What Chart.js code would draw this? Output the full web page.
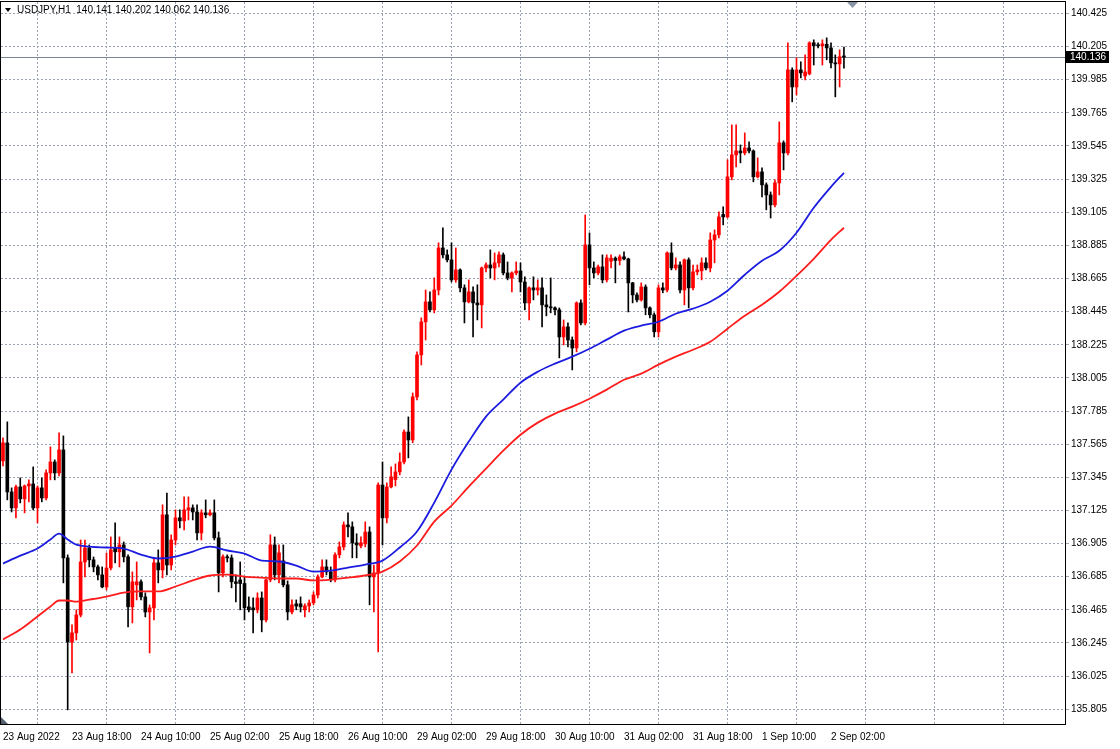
<!DOCTYPE html>
<html><head><meta charset="utf-8">
<script src="https://cdn.jsdelivr.net/npm/chart.js@4.4.1/dist/chart.umd.min.js"></script>
<style>html,body{margin:0;padding:0;background:#fff;overflow:hidden}canvas{display:block}</style>
</head><body>
<canvas id="c" width="1120" height="749"></canvas>
<script>
const symbolTitle = 'USDJPY,H1  140.141 140.202 140.062 140.136';
const lastPrice = 140.136;
const xTickBars = [0,16,32,48,64,80,96,112,128,144,160,176,192,208,224,240];
const xTickLabels = ['23 Aug 2022','23 Aug 18:00','24 Aug 10:00','25 Aug 02:00','25 Aug 18:00','26 Aug 10:00','29 Aug 02:00','29 Aug 18:00','30 Aug 10:00','31 Aug 02:00','31 Aug 18:00','1 Sep 10:00','2 Sep 02:00'];
const yTicks = [135.805,136.025,136.245,136.465,136.685,136.905,137.125,137.345,137.565,137.785,138.005,138.225,138.445,138.665,138.885,139.105,139.325,139.545,139.765,139.985,140.205,140.425];

const open = [137.454,137.574,137.248,137.142,137.281,137.202,137.288,137.301,137.142,137.275,
137.208,137.374,137.447,137.374,137.527,136.810,136.252,136.312,136.431,136.783,
136.876,136.797,136.750,136.697,136.617,136.743,136.880,136.850,136.896,136.817,
136.485,136.631,136.651,136.551,136.451,136.478,136.777,136.730,137.096,136.763,
136.929,137.076,137.056,137.129,137.142,137.115,136.976,137.109,137.096,137.109,
136.943,136.710,136.817,136.810,136.651,136.664,136.640,136.485,136.478,136.465,
136.544,136.398,136.664,136.896,136.697,136.790,136.631,136.451,136.505,136.505,
136.465,136.491,136.511,136.564,136.684,136.750,136.717,136.664,136.830,136.883,
137.029,137.016,136.910,136.890,136.903,136.982,136.684,136.710,137.294,137.076,
137.281,137.330,137.381,137.447,137.646,137.593,137.879,138.158,138.377,138.510,
138.457,138.589,138.868,138.822,138.789,138.656,138.722,138.603,138.510,138.576,
138.503,138.490,138.735,138.755,138.735,138.769,138.822,138.702,138.669,138.702,
138.715,138.642,138.503,138.603,138.589,138.603,138.490,138.477,138.470,138.457,
138.277,138.344,138.257,138.204,138.503,138.370,138.888,138.735,138.702,138.742,
138.656,138.780,138.800,138.785,138.809,138.795,138.636,138.556,138.523,138.609,
138.470,138.424,138.311,138.603,138.589,138.835,138.735,138.755,138.589,138.789,
138.603,138.709,138.716,138.769,138.735,138.921,138.955,139.090,139.074,139.340,
139.486,139.512,139.499,139.532,139.512,139.340,139.373,139.287,139.220,139.154,
139.300,139.566,139.499,140.050,139.937,140.050,140.010,140.024,140.230,140.215,
140.210,140.220,140.196,140.097,140.090,140.141];

const high = [137.607,137.713,137.275,137.294,137.341,137.294,137.328,137.414,137.288,137.341,
137.394,137.547,137.461,137.640,137.620,136.830,136.365,136.465,136.929,136.929,
136.896,136.816,136.763,136.750,136.843,136.949,137.042,136.949,136.916,136.830,
136.717,136.783,136.664,136.578,136.498,136.810,136.863,137.162,137.241,136.963,
137.129,137.129,137.215,137.215,137.162,137.162,137.129,137.195,137.129,137.195,
136.982,136.830,136.830,136.830,136.697,136.783,136.684,136.551,136.544,136.578,
136.584,136.670,136.963,136.949,136.896,136.896,136.657,136.531,136.531,136.551,
136.505,136.531,136.584,136.697,136.797,136.797,136.750,136.843,136.916,137.049,
137.109,137.049,136.970,136.949,137.049,137.016,136.763,137.308,137.447,137.308,
137.414,137.434,137.507,137.660,137.746,137.905,138.178,138.404,138.589,138.576,
138.669,138.902,139.001,138.855,138.902,138.868,138.729,138.623,138.656,138.609,
138.623,138.742,138.769,138.855,138.835,138.842,138.835,138.775,138.709,138.775,
138.769,138.676,138.609,138.676,138.656,138.669,138.556,138.669,138.477,138.470,
138.390,138.370,138.277,138.510,138.523,139.087,138.968,138.775,138.755,138.822,
138.822,138.822,138.809,138.822,138.842,138.800,138.640,138.570,138.636,138.623,
138.477,138.437,138.623,138.636,138.842,138.902,138.802,138.775,138.795,138.802,
138.755,138.755,138.802,138.802,138.968,138.988,139.107,139.141,139.453,139.685,
139.685,139.552,139.632,139.572,139.519,139.466,139.400,139.300,139.240,139.320,
139.705,139.579,140.230,140.064,140.130,140.104,140.150,140.237,140.250,140.230,
140.250,140.263,140.230,140.150,140.183,140.202];

const low = [137.421,137.195,137.115,137.076,137.175,137.109,137.182,137.129,137.042,137.182,
137.195,137.328,137.328,137.354,136.644,135.801,136.046,136.265,136.418,136.684,
136.750,136.717,136.664,136.611,136.597,136.730,136.777,136.750,136.783,136.352,
136.378,136.531,136.531,136.418,136.179,136.398,136.644,136.677,136.697,136.730,
136.896,137.009,136.996,137.062,137.062,136.929,136.929,137.076,137.089,136.929,
136.584,136.684,136.783,136.611,136.518,136.465,136.398,136.451,136.312,136.445,
136.319,136.385,136.651,136.664,136.644,136.617,136.398,136.438,136.465,136.451,
136.418,136.451,136.498,136.544,136.677,136.697,136.651,136.651,136.810,136.863,
136.949,136.810,136.810,136.876,136.883,136.498,136.451,136.186,136.896,137.042,
137.275,137.288,137.361,137.434,137.474,137.574,137.859,138.091,138.257,138.443,
138.437,138.556,138.802,138.775,138.642,138.640,138.576,138.370,138.503,138.277,
138.390,138.337,138.709,138.669,138.656,138.742,138.689,138.656,138.576,138.689,
138.576,138.457,138.390,138.523,138.556,138.344,138.417,138.437,138.424,138.138,
138.224,138.210,138.058,138.178,138.357,138.357,138.623,138.669,138.689,138.636,
138.642,138.735,138.636,138.755,138.789,138.443,138.503,138.510,138.515,138.424,
138.404,138.277,138.277,138.570,138.576,138.722,138.722,138.570,138.490,138.470,
138.589,138.689,138.656,138.722,138.709,138.769,138.935,139.021,139.067,139.320,
139.406,139.433,139.486,139.499,139.307,139.333,139.207,139.121,139.067,139.141,
139.220,139.386,139.486,139.838,139.884,139.997,139.984,140.017,140.083,140.196,
140.083,140.117,140.064,139.871,139.937,140.062];

const close = [137.574,137.248,137.142,137.281,137.202,137.288,137.301,137.142,137.275,137.208,
137.374,137.447,137.374,137.527,136.810,136.252,136.312,136.431,136.783,136.876,
136.797,136.750,136.697,136.617,136.743,136.863,136.850,136.896,136.817,136.485,
136.651,136.651,136.551,136.451,136.478,136.777,136.730,137.096,136.763,136.929,
137.076,137.056,137.129,137.142,137.115,136.976,137.109,137.096,137.109,136.943,
136.710,136.817,136.810,136.651,136.640,136.640,136.478,136.465,136.465,136.544,
136.398,136.664,136.896,136.697,136.843,136.631,136.451,136.498,136.490,136.485,
136.491,136.511,136.564,136.684,136.750,136.717,136.664,136.830,136.883,137.029,
137.016,136.910,136.896,136.910,136.982,136.684,136.710,137.294,137.076,137.281,
137.348,137.381,137.447,137.646,137.593,137.879,138.158,138.377,138.510,138.457,
138.589,138.868,138.822,138.789,138.656,138.722,138.603,138.510,138.576,138.503,
138.490,138.735,138.755,138.735,138.769,138.822,138.702,138.669,138.702,138.715,
138.642,138.503,138.603,138.589,138.603,138.490,138.477,138.470,138.457,138.277,
138.344,138.257,138.204,138.503,138.370,138.888,138.735,138.702,138.742,138.656,
138.802,138.800,138.785,138.809,138.795,138.636,138.556,138.523,138.609,138.470,
138.424,138.311,138.603,138.589,138.835,138.735,138.755,138.589,138.789,138.603,
138.709,138.722,138.769,138.735,138.921,138.955,139.074,139.074,139.340,139.486,
139.512,139.499,139.532,139.512,139.340,139.373,139.287,139.220,139.154,139.300,
139.566,139.499,140.050,139.937,140.050,140.030,140.037,140.230,140.210,140.210,
140.223,140.196,140.097,140.090,140.137,140.136];

const maBars = [0,4,8,11,13,15,17,20,24,28,32,36,40,44,48,52,56,60,64,68,72,76,80,84,88,92,96,100,104,108,112,116,120,124,128,132,136,140,144,148,152,156,160,164,168,172,176,180,184,188,192,195];
const maBlue = [136.772,136.825,136.872,136.932,136.971,136.932,136.898,136.885,136.879,136.872,136.832,136.806,136.819,136.852,136.885,136.859,136.839,136.792,136.786,136.759,136.719,136.726,136.746,136.766,136.792,136.879,136.985,137.177,137.396,137.582,137.748,137.861,137.973,138.046,138.100,138.146,138.199,138.259,138.319,138.352,138.378,138.431,138.465,138.511,138.584,138.690,138.783,138.849,138.969,139.135,139.274,139.367];
const maRed = [136.268,136.334,136.421,136.487,136.527,136.527,136.520,136.533,136.553,136.580,136.587,136.587,136.620,136.660,136.693,136.699,136.686,136.679,136.673,136.673,136.660,136.666,136.679,136.693,136.719,136.786,136.892,137.051,137.157,137.283,137.403,137.522,137.628,137.708,137.768,137.814,137.867,137.927,137.993,138.033,138.093,138.146,138.192,138.245,138.332,138.418,138.491,138.577,138.683,138.796,138.922,139.002];

const FONT = 'Liberation Sans, Arial, sans-serif';
const GRID = '#9aa3b3';
const bullColor = '#ff0000', bearColor = '#000000';
const candleColors = open.map((o, i) => close[i] > o ? bullColor : bearColor);
const wickData = open.map((o, i) => ({x: i, y: [low[i], high[i]]}));
const bodyData = open.map((o, i) => ({x: i, y: [o, close[i]]}));
const blueData = maBars.map((b, k) => ({x: b, y: maBlue[k]}));
const redData = maBars.map((b, k) => ({x: b, y: maRed[k]}));

const extras = {
  id: 'mt4extras',
  beforeDatasetsDraw(chart) {
    const {ctx, chartArea: a, scales: {y}} = chart;
    const py = Math.round(y.getPixelForValue(lastPrice)) + 0.5;
    ctx.save();
    ctx.strokeStyle = '#7a8597'; ctx.lineWidth = 1;
    ctx.beginPath(); ctx.moveTo(a.left, py); ctx.lineTo(a.right, py); ctx.stroke();
    ctx.restore();
  },
  afterDraw(chart) {
    const {ctx, chartArea: a, scales: {y}} = chart;
    ctx.save();
    ctx.strokeStyle = '#000'; ctx.lineWidth = 1;
    ctx.strokeRect(a.left - 0.5, a.top - 0.5, a.right - a.left + 1, a.bottom - a.top + 1);
    const py = Math.round(y.getPixelForValue(lastPrice));
    ctx.fillStyle = '#000';
    ctx.fillRect(a.right + 1, py - 6, 43, 12);
    ctx.fillStyle = '#fff';
    ctx.font = '10px ' + FONT;
    ctx.textBaseline = 'middle'; ctx.textAlign = 'left';
    ctx.fillText(lastPrice.toFixed(3), a.right + 5, py + 0.5);
    ctx.fillStyle = '#000';
    ctx.beginPath(); ctx.moveTo(5, 8); ctx.lineTo(11, 8); ctx.lineTo(8, 12); ctx.closePath(); ctx.fill();
    ctx.fillText(symbolTitle, 17, 10);
    ctx.fillStyle = '#8a94a6';
    ctx.beginPath(); ctx.moveTo(847, a.top); ctx.lineTo(858, a.top); ctx.lineTo(852.5, a.top + 6); ctx.closePath(); ctx.fill();
    ctx.fillStyle = '#55606f';
    ctx.beginPath(); ctx.moveTo(a.left, a.bottom - 7); ctx.lineTo(a.left, a.bottom); ctx.lineTo(a.left + 7, a.bottom); ctx.closePath(); ctx.fill();
    ctx.restore();
  }
};

function noPad(s) { s.paddingTop = 0; s.paddingBottom = 0; s.paddingLeft = 0; s.paddingRight = 0; }

new Chart(document.getElementById('c'), {
  type: 'bar',
  data: {
    datasets: [
      {type: 'line', data: blueData, borderColor: '#1c1ce0', borderWidth: 1.8, pointRadius: 0, cubicInterpolationMode: 'monotone', order: 0},
      {type: 'line', data: redData, borderColor: '#ff1c1c', borderWidth: 1.8, pointRadius: 0, cubicInterpolationMode: 'monotone', order: 1},
      {type: 'bar', data: bodyData, backgroundColor: candleColors, barThickness: 3, minBarLength: 1, grouped: false, order: 2},
      {type: 'bar', data: wickData, backgroundColor: candleColors, barThickness: 1, grouped: false, order: 3}
    ]
  },
  options: {
    responsive: false, animation: false, devicePixelRatio: 1, events: [],
    layout: {padding: {left: 1, top: 2, right: 0, bottom: 0}},
    plugins: {legend: {display: false}, tooltip: {enabled: false}, title: {display: false}},
    scales: {
      x: {
        type: 'linear', position: 'bottom', offset: false,
        min: -0.4638, max: 246.26,
        afterBuildTicks: s => { s.ticks = xTickBars.map(v => ({value: v})); },
        afterFit: s => { s.height = 25; noPad(s); },
        grid: {offset: true, color: GRID, lineWidth: 1, drawTicks: false, tickLength: 0},
        border: {display: false, dash: [2, 2]},
        ticks: {autoSkip: false, maxRotation: 0, minRotation: 0, align: 'start', padding: 7,
          color: '#000', font: {family: FONT, size: 10},
          callback: (v, i) => xTickLabels[i] || ''}
      },
      y: {
        type: 'linear', position: 'right',
        min: 135.707, max: 140.501,
        afterBuildTicks: s => { s.ticks = yTicks.map(v => ({value: v})); },
        afterFit: s => { s.width = 55; noPad(s); },
        grid: {color: GRID, lineWidth: 1, drawTicks: true, tickLength: 4, tickColor: GRID},
        border: {display: false, dash: [2, 2]},
        ticks: {padding: 2, color: '#000', font: {family: FONT, size: 10},
          callback: v => Number(v).toFixed(3)}
      }
    }
  },
  plugins: [extras]
});
</script>
</body></html>
